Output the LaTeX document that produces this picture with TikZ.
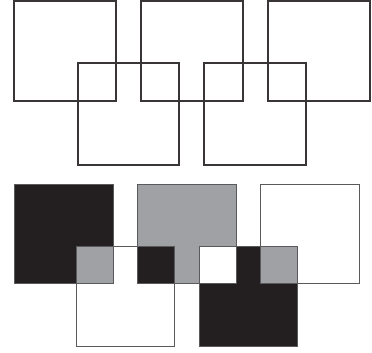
\documentclass[tikz,border=0pt]{standalone}
\definecolor{ink}{HTML}{231F20}
\definecolor{grayfill}{HTML}{A0A1A5}
\definecolor{edge}{HTML}{5A5A5C}
\tikzset{
  topsq/.style={draw=ink!90, line width=1.5pt},
  botsq/.style={draw=edge, line width=0.75pt},
}
\begin{document}
\begin{tikzpicture}[x=0.75pt,y=-0.75pt]
\useasboundingbox (0,0) rectangle (372,353);
% top row outlines
\draw[topsq] (14,1) rectangle (116,101);
\draw[topsq] (141,1) rectangle (243,101);
\draw[topsq] (268,1) rectangle (370,101);
\draw[topsq] (78,63) rectangle (179,165);
\draw[topsq] (204,63) rectangle (306,165);
% bottom row fills
\fill[ink] (14,185) rectangle (113,284);
\fill[grayfill] (137,185) rectangle (236,284);
\fill[ink] (199,247) rectangle (297,346);
\fill[grayfill] (76,247) rectangle (113,284);
\fill[ink] (137,247) rectangle (174,284);
\fill[white] (199,247) rectangle (236,284);
\fill[grayfill] (260,247) rectangle (297,284);
% bottom outlines
\draw[botsq] (14,185) rectangle (113,284);
\draw[botsq] (137,185) rectangle (236,284);
\draw[botsq] (260,185) rectangle (359,284);
\draw[botsq] (76,247) rectangle (174,346);
\draw[botsq] (199,247) rectangle (297,346);
\end{tikzpicture}
\end{document}
